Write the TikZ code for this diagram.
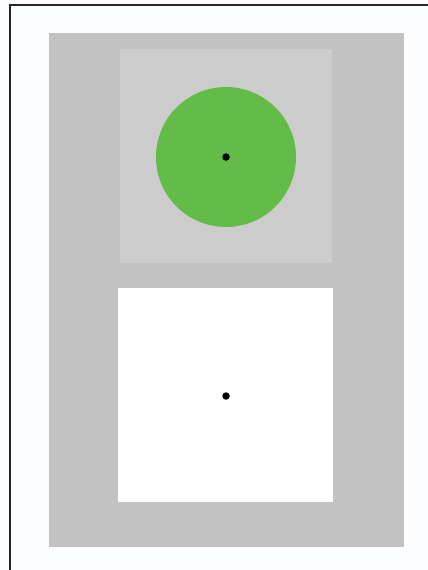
\documentclass[tikz,border=0pt]{standalone}
\definecolor{outergray}{RGB}{194,194,194}
\definecolor{innergray}{RGB}{205,204,204}
\definecolor{discgreen}{RGB}{100,188,72}
\definecolor{paper}{RGB}{252,253,255}
\tikzset{dot/.style={circle,fill=black,inner sep=0pt,minimum size=7.5pt}}
\begin{document}
\begin{tikzpicture}[x=1pt,y=-1pt]
\useasboundingbox (0,0) rectangle (428,570);
\fill[paper] (0,0) rectangle (428,570);
\coordinate (fa) at (10,570);
\coordinate (fb) at (10,5);
\coordinate (fc) at (428,5);
\draw[line width=2pt,black!85] (fa) -- (fb) -- (fc);
\fill[outergray] (49,33) rectangle (404,547);
\fill[innergray] (120,49) rectangle (332,263);
\fill[white] (118,288) rectangle (333,502);
\fill[discgreen] (226,157) circle (70);
\node[dot] (d1) at (226,157) {};
\node[dot] (d2) at (226,396) {};
\end{tikzpicture}
\end{document}
